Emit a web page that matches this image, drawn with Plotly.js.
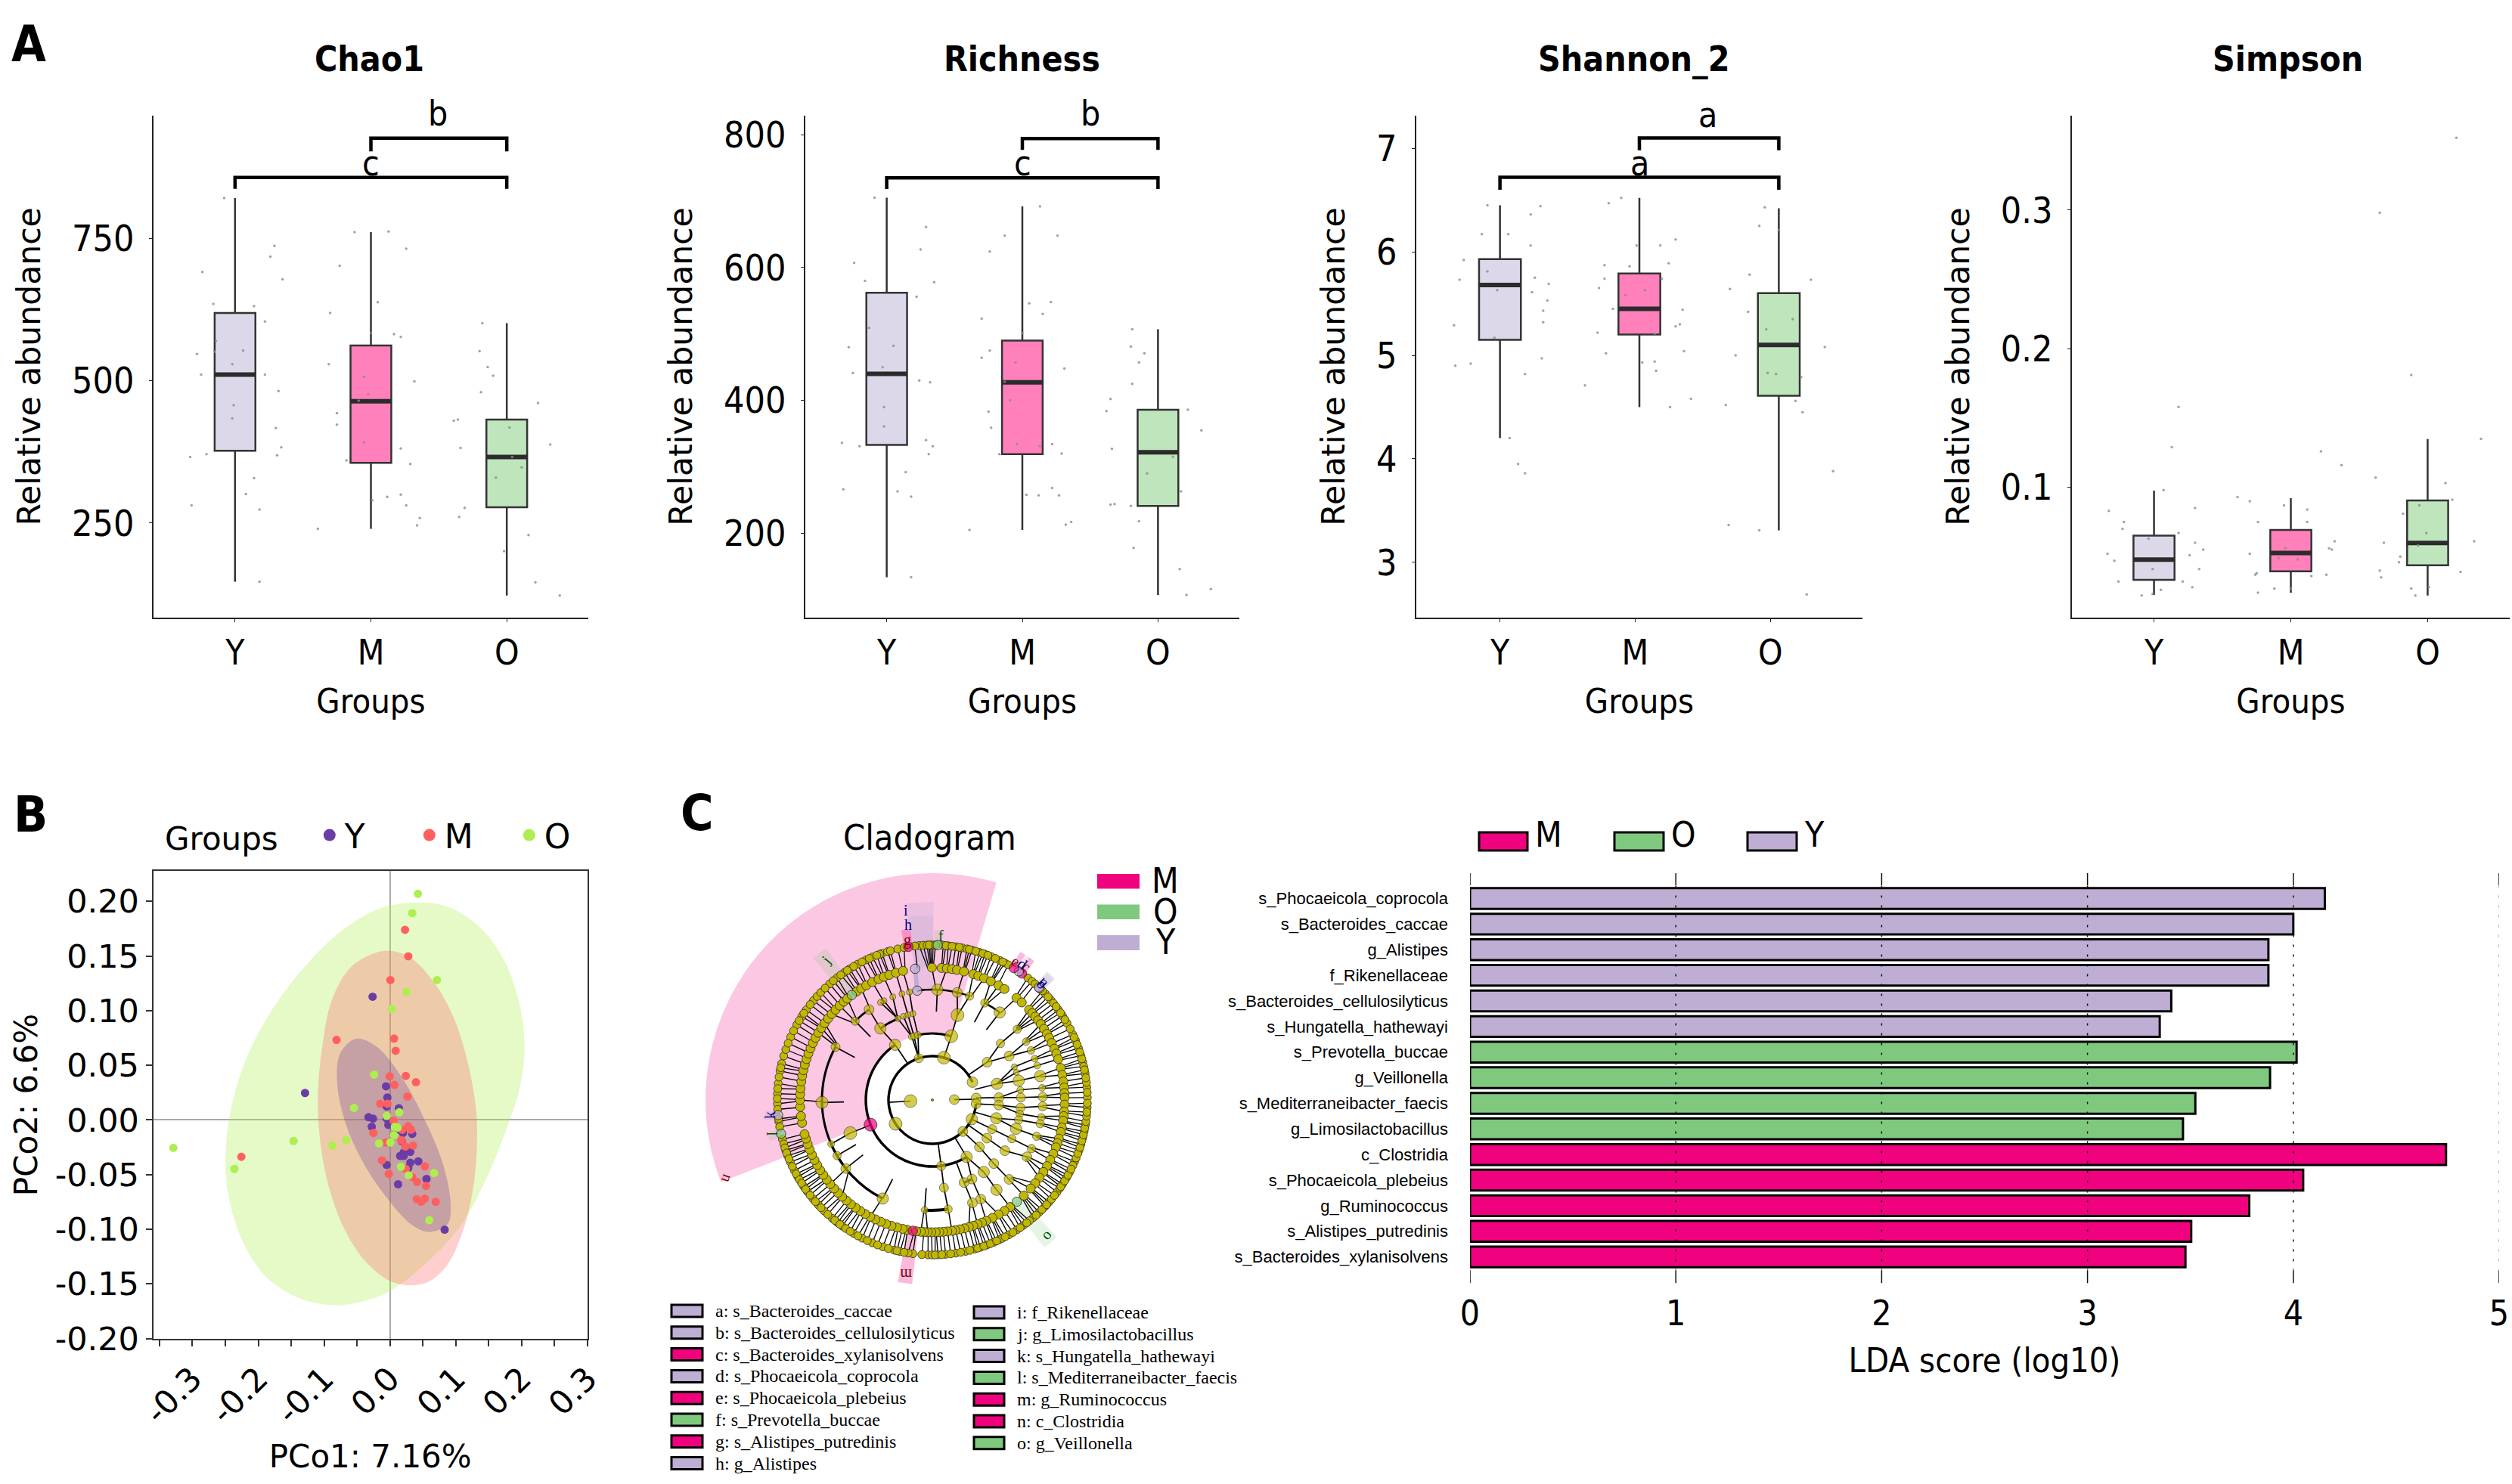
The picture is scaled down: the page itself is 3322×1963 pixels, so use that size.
<!DOCTYPE html>
<html><head><meta charset="utf-8">
<script src="https://cdn.plot.ly/plotly-3.0.1.min.js"></script>
<style>html,body{margin:0;padding:0;background:#fff}</style></head>
<body><div id="chart" style="width:3322px;height:1963px"></div>
<script>
const W=3322,H=1963;
const groups=['Y','M','O'];
const boxColors=['#DDD8E9','#FF80BB','#BFE5BD'];

/* ---------- Panel A values ---------- */
const chao1Q1=[377,356,278],chao1Med=[511,464,366],chao1Q3=[619,562,432],chao1Lo=[147,240,123],chao1Hi=[821,761,601];
const richQ1=[333,319,241],richMed=[440,427,322],richQ3=[562,490,386],richLo=[134,205,107],richHi=[705,692,507];
const shanQ1=[5.15,5.20,4.61],shanMed=[5.68,5.45,5.10],shanQ3=[5.93,5.79,5.60],shanLo=[4.20,4.50,3.31],shanHi=[6.45,6.52,6.42];
const simpQ1=[.0332,.0394,.0438],simpMed=[.0479,.0526,.0598],simpQ3=[.0652,.0693,.0905],simpLo=[.0223,.024,.022],simpHi=[.0976,.0922,.1348];

const chao1ValY=[821,737,718,691,678,635,631,604,570,551,547,553,529,511,511,482,457,434,417,383,371,369,366,329,301,281,274,147];
const chao1OffY=[-.08,.29,.26,-.24,.35,-.16,.14,.22,-.14,-.15,-.28,.06,-.02,-.25,.22,.32,-.01,-.02,.3,.34,-.21,.31,-.33,.14,.08,-.32,.18,.18];
const chao1ValM=[761,762,732,702,638,619,582,577,584,529,507,499,476,465,443,423,392,381,360,354,296,300,290,281,259,246,240];
const chao1OffM=[-.12,.13,.26,-.23,.05,-.3,.17,.22,0,-.31,-.05,.32,-.02,-.09,-.25,-.25,-.05,.22,-.18,.29,.12,.22,.01,.26,.36,.34,-.39];
const chao1ValO=[601,552,524,509,480,461,432,430,418,388,382,366,348,330,277,261,229,201,146,123];
const chao1OffO=[-.18,-.2,-.14,-.1,-.19,.23,-.36,-.39,.02,.32,-.34,.04,.11,-.08,-.31,-.35,.16,-.02,.21,.39];

const richValY=[705,661,627,607,580,578,556,509,480,482,441,450,430,427,390,361,336,331,340,331,319,292,266,263,255,134];
const richOffY=[-.09,.29,.25,-.24,-.16,.35,.22,-.13,-.28,.05,-.25,-.03,.24,.32,-.02,-.02,-.33,-.2,.29,.34,.31,.14,-.32,.08,.18,.18];
const richValM=[692,648,648,624,546,548,530,523,501,475,464,457,448,428,400,383,359,334,334,331,319,320,258,257,268,257,217,213,205];
const richOffM=[.13,-.13,.26,-.24,.05,.21,.15,-.3,0,-.24,-.3,-.05,.31,-.13,-.09,-.25,-.23,-.04,.22,.13,-.17,.29,.03,.12,.22,.27,.36,.32,-.39];
const richValO=[507,481,471,457,425,402,384,386,355,327,315,290,263,244,243,241,218,178,146,107,116];
const richOffO=[-.19,-.2,-.1,-.14,-.19,-.35,-.38,.22,.32,-.34,.11,-.08,.17,-.32,-.35,-.2,-.14,-.18,.16,.21,.39];

const shanValY=[6.45,6.44,6.36,6.17,6.17,6.06,5.92,5.81,5.73,5.75,5.69,5.61,5.63,5.53,5.43,5.29,5.32,5.17,4.92,4.90,4.97,4.82,4.20,3.95,3.86];
const shanOffY=[-.09,.29,.22,-.13,.06,.22,-.26,-.09,-.29,.25,.35,.23,-.02,.34,.31,-.33,.31,-.04,-.21,-.32,.30,.18,.07,.13,.18];
const shanValM=[6.52,6.47,6.12,6.06,6.06,5.89,5.87,5.86,5.74,5.74,5.65,5.58,5.63,5.45,5.44,5.30,5.28,5.22,5.21,5.04,5.02,4.93,4.94,4.85,4.71,4.58,4.50];
const shanOffM=[-.13,-.22,.26,.15,-.02,.21,-.25,-.07,-.25,.16,-.29,-.1,.04,-.19,.31,.29,.26,-.30,.11,.32,-.24,.02,.11,.12,-.39,.37,.22];
const shanValO=[6.43,6.25,6.21,5.78,5.73,5.64,5.42,5.35,5.25,5.08,5.0,4.83,4.82,4.79,4.56,4.52,4.45,3.88,3.36,3.31,2.69];
const shanOffO=[-.1,-.14,0,-.21,.23,-.35,-.22,.10,-.09,.33,-.31,-.08,-.02,.16,.12,-.38,.17,.39,-.36,-.14,.2];

const simpValY=[.158,.129,.098,.083,.075,.085,.07,.063,.06,.055,.067,.052,.051,.047,.041,.041,.032,.032,.028,.026,.022,.023];
const simpOffY=[.18,.13,.07,-.33,-.22,.30,-.23,-.04,.3,.36,.18,-.34,.26,-.29,-.01,.33,-.26,.21,.28,.05,-.09,-.01];
const simpValM=[.126,.116,.093,.09,.087,.084,.075,.075,.061,.056,.055,.056,.052,.049,.048,.038,.037,.037,.036,.027,.024,.027];
const simpOffM=[.22,.37,-.39,-.3,-.05,.12,.12,-.24,.32,.28,.3,-.04,-.3,-.09,.05,-.25,-.26,.26,.15,-.12,-.24,0];
const simpValO=[.352,.298,.181,.135,.107,.103,.091,.087,.081,.067,.061,.058,.06,.05,.046,.04,.039,.035,.027,.028,.022];
const simpOffO=[.21,-.35,-.12,.39,-.38,.13,.18,-.06,-.18,-.01,.34,-.07,-.32,-.2,-.21,-.35,.24,-.34,-.12,.01,-.09];

/* ---------- Panel B values ---------- */
const pcoYx=[-.0264,-.129,-.006,-.004,.0135,-.005,-.0326,-.0258,-.005,-.0277,-.0025,.0135,.0197,.0338,.0178,.0308,.0209,.0154,.0209,.0308,.043,-.005,.0277,.0554,.0123,.083];
const pcoYy=[.1127,.0247,.0308,.0206,.0107,.0123,.0025,.0012,.0012,-.0062,-.0045,-.009,-.0119,-.0127,-.0193,-.0292,-.0296,-.0329,-.0329,-.0391,-.0378,-.0411,-.044,-.0539,-.0588,-.1003];
const pcoMx=[.0228,.0277,.0006,-.0812,.0062,.0086,-.0006,.024,.0394,.0068,.0264,-.0148,-.0037,.0055,.0277,.0185,.032,-.0252,.0172,.0351,.0234,-.0062,-.0123,.0529,-.0018,.024,.0338,.0412,.0547,.0406,.0529,.0474,.0695,-.2257];
const pcoMy=[.1739,.1497,.1279,.0732,.0744,.0633,.0399,.0403,.0345,.0321,.0214,.0148,.0148,-.0008,-.0058,-.009,-.009,-.0119,-.0185,-.0234,-.0243,-.0206,-.037,-.0424,-.0493,-.0448,-.0522,-.0567,-.0604,-.0724,-.072,-.0748,-.0748,-.0337];
const pcoOx=[.0424,.0338,.0713,.0252,.0025,-.024,-.0547,.0141,-.0049,.0074,.0117,.0062,.0006,-.0166,-.0664,-.0873,-.1464,-.329,-.2362,.0166,.0283,.067,.0597];
const pcoOy=[.2068,.1891,.1279,.1172,.1016,.0415,.0111,.007,.0037,-.0062,-.007,-.014,-.0206,-.0214,-.0185,-.0234,-.0193,-.0255,-.0448,-.0428,-.0506,-.0485,-.0917];
const ellOx=[.0289,.0843,.1335,.1704,.195,.2042,.198,.1765,.1458,.1089,.0597,-.0018,-.051,-.0879,-.1371,-.1863,-.2232,-.2448,-.2497,-.2448,-.2232,-.1863,-.1371,-.0756,-.0203,.0289];
const ellOy=[.1986,.1957,.178,.1493,.1102,.0691,.0321,-.009,-.0543,-.0954,-.1283,-.1571,-.1674,-.1694,-.1632,-.1447,-.1118,-.0707,-.0419,-.0008,.0485,.0938,.1349,.1719,.1924,.1986];
const ellMx=[-.008,.0289,.0658,.0966,.1181,.1304,.1322,.1273,.1119,.0873,.0597,.0289,-.0018,-.0387,-.0695,-.0941,-.1064,-.1095,-.1033,-.0879,-.0572,-.008];
const ellMy=[.1546,.1493,.1266,.0938,.0526,.0115,-.0173,-.0584,-.0995,-.1324,-.1476,-.1513,-.1468,-.1283,-.0995,-.0584,-.0173,.0238,.065,.1102,.141,.1546];
const ellYx=[-.051,-.0203,.0166,.0535,.0812,.0923,.0873,.0597,.032,-.008,-.0418,-.0664,-.08,-.0756,-.051];
const ellYy=[.0744,.067,.0403,-.0008,-.0419,-.0789,-.0954,-.1024,-.0954,-.0687,-.0378,-.0049,.0321,.0609,.0744];

/* ---------- Panel C: LDA values ---------- */
const ldaNames=['s_Phocaeicola_coprocola','s_Bacteroides_caccae','g_Alistipes','f_Rikenellaceae','s_Bacteroides_cellulosilyticus','s_Hungatella_hathewayi','s_Prevotella_buccae','g_Veillonella','s_Mediterraneibacter_faecis','g_Limosilactobacillus','c_Clostridia','s_Phocaeicola_plebeius','g_Ruminococcus','s_Alistipes_putredinis','s_Bacteroides_xylanisolvens'];
const ldaScores=[4.153,4.0,3.879,3.879,3.407,3.351,4.016,3.887,3.524,3.464,4.742,4.048,3.786,3.504,3.476];
const ldaGroups=['Y','Y','Y','Y','Y','Y','O','O','O','O','M','M','M','M','M'];
const accent={M:'#F0027F',O:'#7FC97F',Y:'#BEAED4'};

/* ---------- Panel C: cladogram values (degrees per ring) ---------- */
const ring29=[183,1];
const ring58=[108,74.7,24,2.6,355,334,314,213];
const ring88=[124,108,106,102.5,73.5,34.6,14,2,355.6,344,334,325,315,301,277.6];
const ring117=[126,202,113,109,106,102.7,73.5,39.7,29.8,22,18.2,12.6,6.5,1.6,355,351,347,341,334,325,314,305.5,296.6,291,277.5];
const ring146=[39.8,31.9,26.7,22,18.2,12.5,6.3,1.6,356.7,350.9,347.6,340.8,333.9,329,314,305.5,296,291.3,278.2,266,203.5,210.3,218.4,243.3,181.3,151.3,134.4,125,87.4,77,70.3,61.6,52.4,102,106,111,116,118];
const ring175=[43,41,39,37,35,32.5,30,28,25.5,22.8,20.5,18,14,10.9,8,5.4,3,1,358,355,353,351,348,346,343,341,339,336,333,330,327,324,321,318,313.7,306,303,300,297,294,292,290,288,286,284,282,280,278.5,276.5,274.7,273,271.4,269.5,268,266.5,265,263,259,257,254.5,252,249.5,247,244.5,242,239.5,237,234.5,232,229.5,227,224.5,222,219.5,217,214.5,212,209.5,207,204.5,202,199.5,197,195,190,187,183,180,177.5,175,172,169.5,167,164.5,162,159.5,157,154.5,152,149.5,147,144.5,142,139.5,137,134.5,132,130,125,122.5,120,117,114,111.5,109,106,102.8,90.2,86,83.7,81.5,79.3,76.2,72,69.7,67,63.8,60,57,50.5,47.5];
const ring175InnerExtra=[265,268,278.5,286,290,294,300,306,219.5,227,242,180,149.5,147,144.5,139.5,134.5,130,122.5,117,111.5,106,102.8,90.2,83.7,76.2,72,67,63.8,60,57,50.5];
const ring205=[108.9,106.8,105.7,102.9,100.5,94.9,93.4,92,90.6,89.7,86,84.1,81.3,78.9,77.1,75.2,72.2,70.2,67.8,64.2,62.1,60.7,52,50,48.5,43.2,40.2,38.6,35.6,32.9,29.7,25,22.5,19.5,16.6,14.1,12.5,9.8,4.7,.9,357.2,350.7,348.3,345.9,343.4,341,336.6,335,332.1,329.8,327.1,323.5,318.8,316.5,313.5,310.6,308.8,306,303.1,299.5,295.6,293.3,290.6,288.1,285.8,282.4,278.7,274.9,272.1,268.4,266.1,262.8,261,258,255.7,251.4,247.2,243.1,239.5,234.5,232.4,229.8,225.8,222.6,219.6,216.3,214,209.8,207.1,203.6,201.1,199,194.7,188,181.4,177.7,173.9,169.2,166.4,163.5,161,156,151,147.4,144.4,140.1,138.1,136.1,131.5,127.9,124.5,122.2,118.8,115.3,112.7,
296.8,298,301.3,304.5,307.5,312,315,317.5,320.2,322,325.3,326,328.5,331,333.5,338,339.8,342.2,344.7,347,349.5,352,354,355.5,358.8,2.8,6.5,8.2,11.2,15.4,18,21,23.8,27.3,31.2,34.2,37,41.7,44.8,168,171.5,175.8,179.5,183.5,187,190,196.5,198,200,202.3,205.4,208.5,211,212.5,215.2,217.9,221,224.1,227.6,231,233.4,236,238,241.3,245.2,249.3,253.5,256.8,259.5,269.9,271,273.5,276.8,280.5,284,287,289.4,292,294.5,109.9,111,114,117,120.5,123.3,126.2,129.7,133.8,142,146,149.2,153.5,158.5,96.5,91.2,88.8,85,82.7,80,76.2,73.7,71,69,66,63];
const size29=[17,13],size58=[12,17,14,13,13,15,13,17],size88=[15,9,9,9,17,13,15,13,13,15,12,13,13,15,12];
const size117=[15,17,8,8,8,8,17,11,13,8,8,15,9,12,12,10,11,15,11,13,13,15,13,13,12];
const size146=[11,10,10,9,9,15,9,12,12,10,11,11,11,13,13,15,13,13,11,9,9,11,13,15,16,12,11,13,15,13,11,11,15,8,8,8,8,8];
const biomarkerLabels=['a','b','c','d','e','f','g','h','i','j','k','l','m','n','o'];
const biomarkerNames=['s_Bacteroides_caccae','s_Bacteroides_cellulosilyticus','s_Bacteroides_xylanisolvens','s_Phocaeicola_coprocola','s_Phocaeicola_plebeius','s_Prevotella_buccae','s_Alistipes_putredinis','g_Alistipes','f_Rikenellaceae','g_Limosilactobacillus','s_Hungatella_hathewayi','s_Mediterraneibacter_faecis','g_Ruminococcus','c_Clostridia','g_Veillonella'];
const biomarkerGroups=['Y','Y','M','Y','M','O','M','Y','Y','O','Y','O','M','M','O'];
const biomarkerTheta=[46.2,46.6,54.7,56.1,58.3,88,98.9,97.5,97.9,127.5,185.6,192.6,261.5,201.8,309.7];
const biomarkerR=[205,205,205,205,205,205,205,175,146,175,205,205,175,88,175];
const biomarkerTop=[226,228,228,228,228,225,228,244,262,245,222,222,245,300,245];
const biomarkerWidth=[3,3.5,2,2,2,2.5,3,8,8,5,3,3,4.5,127.6,5];
const biomarkerHiTheta=[46.2,46.6,54.7,56.1,58.3,88,98.9,93.7,93.7,127.5,185.6,192.6,261.5,137.4,309.7];
const labelPx=[1381,1378,1357,1352,1343,1244,1200,1201,1198,1092,1018,1021,1198,962,1383];
const labelPy=[1299,1301,1278,1275,1271,1238,1243,1223,1204,1270,1475,1500,1686,1559,1633];
const labelAngle=[45,45,35,35,30,0,0,0,0,-50,-90,90,180,110,-50];
const arcR=[58,88,88,88,117,146,146,146,146,146,117,146];
const arcFrom=[24,73.5,124,202,113,151,203,70,125,52.4,291,266];
const arcTo=[355,102.5,202,301,126,203,243,98,134,61.6,296.6,278];
const arcThick=[3.4,3,3.4,3.4,3,3,3.4,2.6,2.6,2.6,3,4];

/* ---------- helpers ---------- */
const COND='"DejaVu Sans Condensed","DejaVu Sans",sans-serif';
const DV='"DejaVu Sans",sans-serif';
const SER='"Liberation Serif",serif';
const SANS='"Liberation Sans",sans-serif';
const px=x=>x/W, py=y=>1-y/H;
const data=[],annotations=[],shapes=[],layout={};
function note(text,x,y,size,opts={}){annotations.push(Object.assign({text,x:px(x),y:py(y),xref:'paper',yref:'paper',xanchor:'center',yanchor:'middle',showarrow:false,font:{family:COND,size,color:'#000'}},opts));}
const AX=['','2','3','4'];

const panels=[
{t:'Chao1',cx:488,l:203,r:778,range:[84,965.6],ticks:[250,500,750],labelPos:[0,1,2],q1:chao1Q1,med:chao1Med,q3:chao1Q3,lo:chao1Lo,hi:chao1Hi,
 off:[chao1OffY,chao1OffM,chao1OffO],val:[chao1ValY,chao1ValM,chao1ValO],br:[[0,2,837,857],[1,2,903,926]],sig:[['c',1,216],['b',1.49,150]]},
{t:'Richness',cx:1351,l:1065,r:1639,range:[73,828.5],ticks:[200,400,600,800],labelPos:[0,1,2],q1:richQ1,med:richMed,q3:richQ3,lo:richLo,hi:richHi,
 off:[richOffY,richOffM,richOffO],val:[richValY,richValM,richValO],br:[[0,2,718,735],[1,2,777,794]],sig:[['c',1,216],['b',1.5,150]]},
{t:'Shannon_2',cx:2161,l:1873,r:2463,range:[2.466,7.315],ticks:[3,4,5,6,7],labelPos:[0,.97,1.94],q1:shanQ1,med:shanMed,q3:shanQ3,lo:shanLo,hi:shanHi,
 off:[shanOffY,shanOffM,shanOffO],val:[shanValY,shanValM,shanValO],br:[[0,2,6.60,6.72],[1,2,6.98,7.10]],sig:[['a',1,216],['a',1.49,152]]},
{t:'Simpson',cx:3025,l:2740,r:3319,range:[.006,.368],ticks:[.1,.2,.3],labelPos:[0,1,2],q1:simpQ1,med:simpMed,q3:simpQ3,lo:simpLo,hi:simpHi,
 off:[simpOffY,simpOffM,simpOffO],val:[simpValY,simpValM,simpValO],br:[],sig:[]}];

panels.forEach((p,k)=>{
 const xa='x'+AX[k],ya='y'+AX[k];
 layout['xaxis'+AX[k]]={domain:[px(p.l),px(p.r)],range:[-.6,2.6],anchor:ya,tickmode:'array',tickvals:p.labelPos,ticktext:groups,
  showline:true,linecolor:'#222',linewidth:2,ticks:'outside',ticklen:4,tickcolor:'#222',tickwidth:1,showgrid:false,zeroline:false,
  tickfont:{family:COND,size:46,color:'#000'},ticklabelstandoff:1,title:{text:'Groups',font:{family:COND,size:45,color:'#000'},standoff:22}};
 layout['yaxis'+AX[k]]={domain:[py(817),py(153)],range:p.range,anchor:xa,tickmode:'array',tickvals:p.ticks,ticktext:p.ticks.map(String),
  showline:true,linecolor:'#222',linewidth:2,ticks:'outside',ticklen:4,tickcolor:'#222',tickwidth:1,showgrid:false,zeroline:false,
  tickfont:{family:COND,size:48,color:'#000'},ticklabelstandoff:10,title:{text:'Relative abundance',font:{family:DV,size:42.5,color:'#000'},standoff:28}};
 note(p.t,p.cx,78,46,{font:{family:COND,size:46,color:'#000',weight:700}});
 groups.forEach((g,i)=>{
  data.push({type:'box',x:[i],q1:[p.q1[i]],median:[p.med[i]],q3:[p.q3[i]],lowerfence:[p.lo[i]],upperfence:[p.hi[i]],width:.3,whiskerwidth:0,
   fillcolor:boxColors[i],line:{color:'#333',width:2.5},boxpoints:false,xaxis:xa,yaxis:ya,showlegend:false,name:g,hoverinfo:'skip'});
  data.push({type:'scatter',mode:'lines',x:[i-.15,i+.15],y:[p.med[i],p.med[i]],line:{color:'#2b2b2b',width:6},xaxis:xa,yaxis:ya,showlegend:false,hoverinfo:'skip'});
  data.push({type:'scatter',mode:'markers',x:p.off[i].map(o=>i+o),y:p.val[i],marker:{size:3.5,color:'rgba(140,140,140,.8)'},xaxis:xa,yaxis:ya,showlegend:false,hoverinfo:'skip'});
 });
 p.br.forEach(b=>data.push({type:'scatter',mode:'lines',x:[b[0],b[0],b[1],b[1]],y:[b[2],b[3],b[3],b[2]],line:{color:'#000',width:4.5},xaxis:xa,yaxis:ya,showlegend:false,hoverinfo:'skip'}));
 p.sig.forEach(s=>note(s[0],p.l+(s[1]+.6)/3.2*(p.r-p.l),s[2],46));
});

/* ---------- Panel B ---------- */
const bx='x5',by='y5';
const bxt=[-.35,-.3,-.25,-.2,-.15,-.1,-.05,0,.05,.1,.15,.2,.25,.3];
const byt=[-.2,-.15,-.1,-.05,0,.05,.1,.15,.2];
layout.xaxis5={domain:[px(202.5),px(777)],range:[-.3597,.3],anchor:by,tickmode:'array',tickvals:bxt,
 ticktext:bxt.map((v,i)=>(i%2===1)?v.toFixed(1):''),tickangle:-45,showline:true,mirror:true,linecolor:'#333',linewidth:2,ticks:'outside',ticklen:8,tickcolor:'#333',tickwidth:2,
 showgrid:false,zeroline:true,zerolinecolor:'#aaa',zerolinewidth:2,tickfont:{family:DV,size:43,color:'#000'},title:{text:'PCo1: 7.16%',font:{family:DV,size:42,color:'#000'},standoff:20}};
layout.yaxis5={domain:[py(1771),py(1152)],range:[-.2002,.2278],anchor:bx,tickmode:'array',tickvals:byt,ticktext:byt.map(v=>v.toFixed(2)),
 showline:true,mirror:true,linecolor:'#333',linewidth:2,ticks:'outside',ticklen:8,tickcolor:'#333',tickwidth:2,showgrid:false,zeroline:true,zerolinecolor:'#aaa',zerolinewidth:2,
 tickfont:{family:DV,size:43,color:'#000'},title:{text:'PCo2: 6.6%',font:{family:DV,size:42,color:'#000'},standoff:10}};
[[ellOx,ellOy,'rgba(174,238,80,.32)'],[ellMx,ellMy,'rgba(255,95,95,.3)'],[ellYx,ellYy,'rgba(107,63,160,.3)']].forEach(e=>
 data.push({type:'scatter',mode:'lines',x:e[0],y:e[1],fill:'toself',fillcolor:e[2],line:{width:0,shape:'spline',smoothing:1},xaxis:bx,yaxis:by,showlegend:false,hoverinfo:'skip'}));
[['Y',pcoYx,pcoYy,'#6A3CA6'],['M',pcoMx,pcoMy,'#FF5F5F'],['O',pcoOx,pcoOy,'#AEEE50']].forEach(t=>{
 data.push({type:'scatter',mode:'markers',name:t[0],x:t[1],y:t[2],marker:{size:11,color:t[3]},xaxis:bx,yaxis:by,showlegend:false,hoverinfo:'skip'});
 data.push({type:'scatter',mode:'markers',name:t[0],x:[null],y:[null],marker:{size:16,color:t[3]},xaxis:bx,yaxis:by,showlegend:true,hoverinfo:'skip'});
});
layout.legend={x:px(216),y:py(1105),xanchor:'left',yanchor:'middle',orientation:'h',title:{text:'Groups   ',side:'left',font:{family:DV,size:42,color:'#000'}},
 font:{family:DV,size:44,color:'#000'},itemsizing:'trace',entrywidth:87,entrywidthmode:'pixels',bgcolor:'rgba(0,0,0,0)',itemclick:false,itemdoubleclick:false};

/* ---------- Panel C LDA ---------- */
layout.xaxis6={domain:[px(1944),px(3305)],range:[0,5],anchor:'y6',tickmode:'array',tickvals:[0,1,2,3,4,5],ticktext:['0','1','2','3','4','5'],showline:false,ticks:'',showgrid:false,zeroline:false,
 tickfont:{family:COND,size:46,color:'#000'},ticklabelstandoff:8,title:{text:'LDA score (log10)',font:{family:COND,size:45,color:'#000'},standoff:20}};
layout.yaxis6={domain:[py(1697.5),py(1155)],type:'category',categoryorder:'array',categoryarray:ldaNames,range:[15.03,-.99],anchor:'x6',showline:false,ticks:'',showgrid:false,zeroline:false,
 tickfont:{family:SANS,size:22,color:'#000'},ticklabelstandoff:28};
['Y','O','M'].forEach(g=>{
 const idx=ldaNames.map((n,i)=>i).filter(i=>ldaGroups[i]===g);
 data.push({type:'bar',orientation:'h',y:idx.map(i=>ldaNames[i]),x:idx.map(i=>ldaScores[i]),width:.81,marker:{color:accent[g],line:{color:'#000',width:3}},xaxis:'x6',yaxis:'y6',showlegend:false,hoverinfo:'skip',name:g});
});
[0,1,2,3,4,5].forEach(v=>{
 if(v>0) shapes.push({type:'line',xref:'x6',yref:'y6',x0:v,x1:v,y0:-.5,y1:14.5,layer:'above',line:{color:v===5?'#999':'#111',width:1.5,dash:'3px,10px'}});
 shapes.push({type:'line',xref:'x6',yref:'y6',x0:v,x1:v,y0:-.99,y1:-.52,layer:'above',line:{color:'#111',width:1.5}});
 shapes.push({type:'line',xref:'x6',yref:'y6',x0:v,x1:v,y0:14.52,y1:15.03,layer:'above',line:{color:'#111',width:1.5}});
});
function swatch(x0,x1,y0,y1,color,w){shapes.push({type:'rect',xref:'paper',yref:'paper',x0:px(x0),x1:px(x1),y0:py(y1),y1:py(y0),fillcolor:color,line:{color:'#000',width:w}});}
[['M',1956,2020,2048],['O',2135,2200,2226],['Y',2311,2376,2399]].forEach(s=>{swatch(s[1],s[2],1101,1125,accent[s[0]],3);note(s[0],s[3],1104,46);});

/* ---------- Panel C cladogram ---------- */
layout.polar={domain:{x:[px(923),px(1543)],y:[py(1765),py(1145)]},bgcolor:'rgba(0,0,0,0)',barmode:'overlay',
 radialaxis:{visible:false,range:[0,310]},angularaxis:{visible:false,rotation:0,direction:'counterclockwise'}};
const hiOrder=[13,8,7,6,5,4,3,2,1,0,9,10,11,12,14];
data.push({type:'barpolar',theta:hiOrder.map(i=>biomarkerHiTheta[i]),base:hiOrder.map(i=>i===13?88:biomarkerR[i]),r:hiOrder.map(i=>biomarkerTop[i]-(i===13?88:biomarkerR[i])),width:hiOrder.map(i=>biomarkerWidth[i]),
 marker:{color:hiOrder.map(i=>accent[biomarkerGroups[i]]),opacity:hiOrder.map(i=>i===13?.22:(biomarkerGroups[i]==='O'?.2:.28)),line:{width:0}},showlegend:false,hoverinfo:'skip'});
function nearest(a,list){let best=list[0],bd=1e9;list.forEach(b=>{const d=Math.abs(((a-b+540)%360)-180);if(d<bd){bd=d;best=b;}});return [best,bd];}
function edges(ch,rc,pa,rp,lim,w,blend){const t=[],r=[];ch.forEach(a=>{const [b,d]=nearest(a,pa);const sd=((b-a+540)%360)-180;t.push(a,d>lim?a:a+sd*blend,null);r.push(rc,rp,null);});
 return {type:'scatterpolar',mode:'lines',theta:t,r:r,line:{color:'#000',width:w},showlegend:false,hoverinfo:'skip'};}
const ring175Inner=ring175.filter(a=>a<=45||a>=312||ring175InnerExtra.includes(a));
data.push(edges(ring205,205,ring175,175,6,1.3,.6));
data.push(edges(ring175Inner,175,ring146,146,9,1.5,.75));
data.push(edges(ring146,146,ring117,117,8,1.7,1));
data.push(edges(ring117,117,ring88,88,8,1.7,1));
data.push(edges(ring88,88,ring58,58,6,1.7,1));
data.push(edges(ring29,29,ring58,58,0.01,1.7,1));
data.push({type:'barpolar',theta:arcFrom.map((a,i)=>(a+arcTo[i])/2),width:arcFrom.map((a,i)=>arcTo[i]-a),base:arcR.map((r,i)=>r-arcThick[i]/2),r:arcThick,marker:{color:'#000',line:{width:0}},showlegend:false,hoverinfo:'skip'});
data.push({type:'scatterpolar',mode:'lines',theta:[97.9,97.5],r:[146,175],line:{color:'#BEAED4',width:6},showlegend:false,hoverinfo:'skip'});
function nodes(th,rad,size){data.push({type:'scatterpolar',mode:'markers',theta:th,r:th.map(()=>rad),marker:{size,color:'#C2B700',line:{color:'#222',width:.8}},showlegend:false,hoverinfo:'skip'});}
nodes(ring205,205,10.5);nodes(ring175,175,12);nodes(ring146,146,size146);nodes(ring117,117,size117);nodes(ring88,88,size88);nodes(ring58,58,size58);nodes(ring29,29,size29);
nodes([0],0,3);
data.push({type:'scatterpolar',mode:'markers',theta:biomarkerTheta,r:biomarkerR,marker:{size:biomarkerR.map(r=>r===88?17:12.5),color:biomarkerGroups.map(g=>accent[g]),line:{color:'#000',width:1}},showlegend:false,hoverinfo:'skip'});
const labelColor={Y:'#00007F',M:'#7F0000',O:'#004C00'};
biomarkerLabels.forEach((l,i)=>note(l,labelPx[i],labelPy[i],20,{textangle:labelAngle[i],font:{family:SER,size:20,color:labelColor[biomarkerGroups[i]]}}));
note('Cladogram',1229,1108,46.5);
[['M',1156,1175.5,1165],['O',1196.5,1216,1206],['Y',1237,1257,1246]].forEach(s=>{swatch(1451,1507,s[1],s[2],accent[s[0]],0);note(s[0],1541,s[3],46);});
biomarkerLabels.forEach((l,i)=>{
 const left=i<8,row=left?i:i-8;
 const cy=(left?1734:1736)+row*28.8;
 const xs=left?[888,929,944]:[1288,1328,1343];
 swatch(xs[0],xs[1],cy-8,cy+8,accent[biomarkerGroups[i]],3);
 note(l+': '+biomarkerNames[i],xs[2],cy,24,{xanchor:'left',font:{family:SER,size:24,color:'#000'}});
});

/* panel letters */
[['A',38,58],['B',40,1077],['C',922,1075]].forEach(s=>note(s[0],s[1],s[2],66,{font:{family:COND,size:66,color:'#000',weight:700}}));

Object.assign(layout,{width:W,height:H,margin:{l:0,r:0,t:0,b:0,pad:0},paper_bgcolor:'#fff',plot_bgcolor:'rgba(0,0,0,0)',showlegend:true,barmode:'overlay',annotations,shapes,font:{family:DV}});
Plotly.newPlot('chart',data,layout,{displayModeBar:false,staticPlot:true});
</script></body></html>
